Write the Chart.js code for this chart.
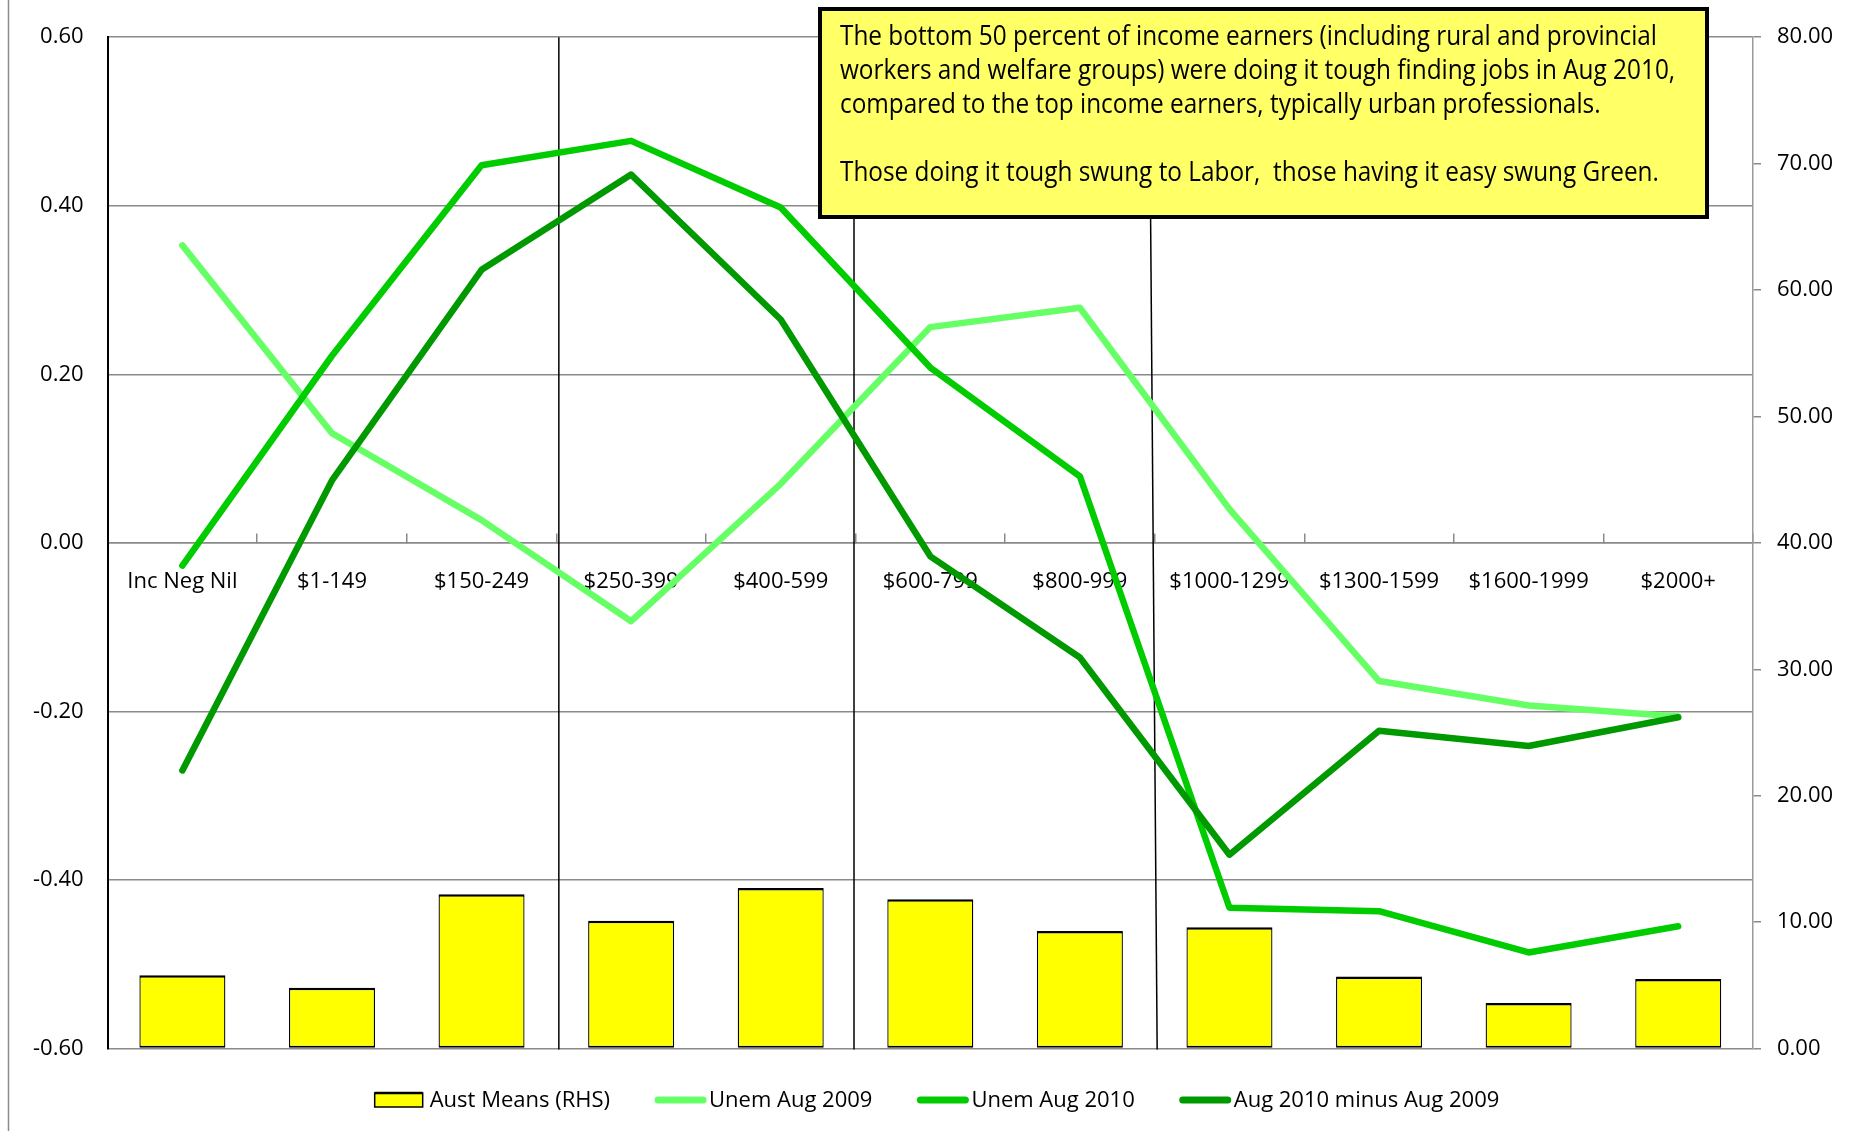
<!DOCTYPE html>
<html>
<head>
<meta charset="utf-8">
<title>Unemployment by income band, Aug 2009 vs Aug 2010</title>
<script src="https://cdn.jsdelivr.net/npm/chart.js@4.4.1/dist/chart.umd.min.js"></script>
<style>
  html, body { margin: 0; padding: 0; background: #ffffff; }
  #wrap { width: 1854px; height: 1131px; position: relative; }
</style>
</head>
<body>
<div id="wrap"><canvas id="chart"></canvas></div>
<script>
// ---- data ----
const categories = ['Inc Neg Nil', '$1-149', '$150-249', '$250-399', '$400-599', '$600-799',
                    '$800-999', '$1000-1299', '$1300-1599', '$1600-1999', '$2000+'];
const austMeans = [5.8, 4.8, 12.2, 10.1, 12.7, 11.8, 9.3, 9.6, 5.7, 3.6, 5.5];          // right axis
const unemAug2009 = [0.353, 0.130, 0.027, -0.093, 0.070, 0.256, 0.279, 0.040, -0.164, -0.193, -0.206];
const unemAug2010 = [-0.027, 0.222, 0.448, 0.477, 0.398, 0.208, 0.079, -0.433, -0.437, -0.486, -0.455];
const aug2010MinusAug2009 = [-0.270, 0.074, 0.324, 0.437, 0.265, -0.016, -0.136, -0.370, -0.223, -0.241, -0.207];

const seriesNames = ['Aust Means (RHS)', 'Unem Aug 2009', 'Unem Aug 2010', 'Aug 2010 minus Aug 2009'];
const noteLines = [
  'The bottom 50 percent of income earners (including rural and provincial',
  'workers and welfare groups) were doing it tough finding jobs in Aug 2010,',
  'compared to the top income earners, typically urban professionals.',
  '',
  'Those doing it tough swung to Labor,  those having it easy swung Green.'
];

// ---- styling ----
const FONT = '"Open Sans", "Liberation Sans", Arial, sans-serif';
const GRID = '#8a8a8a';
const C2009 = '#66ff66', C2010 = '#00cc00', CDIFF = '#009900', CBAR = '#ffff00';

// Divider lines between income groups (index of the band they follow)
const dividers = [
  { after: 2, dxTop: 2.5, dxBottom: 2.5 },
  { after: 4, dxTop: -1.5, dxBottom: -1.5 },
  { after: 6, dxTop: -5.5, dxBottom: 2.5 }
];

const decor = {
  id: 'decor',
  beforeDraw(chart) {
    const { ctx, width, height } = chart;
    ctx.save();
    ctx.fillStyle = '#ffffff';
    ctx.fillRect(0, 0, width, height);
    ctx.strokeStyle = '#8c8c8c';
    ctx.lineWidth = 1.5;
    ctx.beginPath();
    ctx.moveTo(8.5, 0);
    ctx.lineTo(8.5, height);
    ctx.stroke();
    ctx.restore();
  },
  beforeDatasetsDraw(chart) {
    const { ctx, chartArea } = chart;
    const xs = chart.scales.x;
    ctx.save();
    ctx.strokeStyle = '#000000';
    ctx.lineWidth = 1.5;
    dividers.forEach(d => {
      const b = (xs.getPixelForValue(d.after) + xs.getPixelForValue(d.after + 1)) / 2;
      ctx.beginPath();
      ctx.moveTo(b + d.dxTop, chartArea.top);
      ctx.lineTo(b + d.dxBottom, chartArea.bottom + 1);
      ctx.stroke();
    });
    ctx.restore();
  },
  afterDraw(chart) {
    const { ctx } = chart;
    ctx.save();

    // note box
    const bx = 820, by = 9, bw = 887, bh = 208;
    ctx.fillStyle = '#ffff66';
    ctx.fillRect(bx, by, bw, bh);
    ctx.strokeStyle = '#000000';
    ctx.lineWidth = 4;
    ctx.strokeRect(bx, by, bw, bh);

    ctx.fillStyle = '#000000';
    ctx.font = '500 27px ' + FONT;
    ctx.textBaseline = 'middle';
    ctx.textAlign = 'left';
    const sx = 817 / ctx.measureText(noteLines[0]).width;
    noteLines.forEach((line, i) => {
      if (!line) return;
      ctx.save();
      ctx.translate(840, 37 + i * 34);
      ctx.scale(sx, 1);
      ctx.fillText(line, 0, 0);
      ctx.restore();
    });

    // legend
    ctx.font = '500 22px ' + FONT;
    const sw = 52, gap = 3, itemGap = 44, ly = 1100;
    const items = chart.data.datasets.map(ds => ({ ds, w: sw + gap + ctx.measureText(ds.label).width }));
    const total = items.reduce((a, it) => a + it.w, 0) + itemGap * (items.length - 1);
    let x = 937 - total / 2;
    items.forEach(({ ds, w }) => {
      if (ds.type === 'bar') {
        ctx.fillStyle = ds.backgroundColor;
        ctx.fillRect(x, ly - 7, sw - 4, 14);
        ctx.strokeStyle = '#000000';
        ctx.lineWidth = 1.5;
        ctx.strokeRect(x, ly - 7, sw - 4, 14);
        ctx.lineWidth = 2.5;
        ctx.beginPath(); ctx.moveTo(x, ly - 7); ctx.lineTo(x + sw - 4, ly - 7); ctx.stroke();
      } else {
        ctx.strokeStyle = ds.borderColor;
        ctx.lineWidth = 7;
        ctx.lineCap = 'round';
        ctx.beginPath(); ctx.moveTo(x + 4, ly); ctx.lineTo(x + sw - 3, ly); ctx.stroke();
      }
      ctx.fillStyle = '#000000';
      ctx.fillText(ds.label, x + sw + gap, ly + 1);
      x += w + itemGap;
    });
    ctx.restore();
  }
};

const tickFont = { family: FONT, size: 22, weight: 500 };

new Chart(document.getElementById('chart'), {
  data: {
    labels: categories,
    datasets: [
      {
        type: 'bar', label: seriesNames[0], data: austMeans, yAxisID: 'y1', order: 4,
        backgroundColor: CBAR, borderColor: '#000000',
        borderWidth: { top: 2.5, left: 1.3, right: 1.3, bottom: 2 }, borderSkipped: false,
        categoryPercentage: 1.0, barPercentage: 0.575
      },
      {
        type: 'line', label: seriesNames[1], data: unemAug2009, yAxisID: 'y', order: 3,
        borderColor: C2009, backgroundColor: C2009, borderWidth: 6.5, pointRadius: 0,
        tension: 0, fill: false, borderCapStyle: 'round', borderJoinStyle: 'round'
      },
      {
        type: 'line', label: seriesNames[2], data: unemAug2010, yAxisID: 'y', order: 2,
        borderColor: C2010, backgroundColor: C2010, borderWidth: 6.5, pointRadius: 0,
        tension: 0, fill: false, borderCapStyle: 'round', borderJoinStyle: 'round'
      },
      {
        type: 'line', label: seriesNames[3], data: aug2010MinusAug2009, yAxisID: 'y', order: 1,
        borderColor: CDIFF, backgroundColor: CDIFF, borderWidth: 6.5, pointRadius: 0,
        tension: 0, fill: false, borderCapStyle: 'round', borderJoinStyle: 'round'
      }
    ]
  },
  options: {
    responsive: true,
    maintainAspectRatio: false,
    animation: false,
    layout: { padding: { top: 35, bottom: 82.5, left: 0, right: 0 } },
    plugins: { legend: { display: false }, tooltip: { enabled: false } },
    scales: {
      x: {
        type: 'category',
        position: { y: 0 },
        offset: true,
        grid: { display: true, drawOnChartArea: false, drawTicks: true, tickLength: -10,
                color: GRID, lineWidth: 1.5, offset: true },
        border: { display: true, color: GRID, width: 1.5 },
        ticks: { color: '#000000', font: tickFont, padding: 36,
                 autoSkip: false, maxRotation: 0, minRotation: 0 }
      },
      y: {
        position: 'left',
        min: -0.6, max: 0.6,
        grid: { color: GRID, lineWidth: 1.5, drawTicks: false },
        border: { display: true, color: '#000000', width: 2 },
        ticks: { stepSize: 0.2, color: '#000000', font: tickFont, padding: 24,
                 callback: v => Number(v).toFixed(2) },
        afterFit(scale) { scale.width = 107.6; }
      },
      y1: {
        position: 'right',
        min: 0, max: 80,
        grid: { drawOnChartArea: false, drawTicks: true, tickLength: 8, color: GRID, lineWidth: 1.5 },
        border: { display: true, color: '#9a9a9a', width: 1.5 },
        ticks: { stepSize: 10, color: '#000000', font: tickFont, padding: 16,
                 callback: v => Number(v).toFixed(2) },
        afterFit(scale) { scale.width = 101; }
      }
    }
  },
  plugins: [decor]
});
</script>
</body>
</html>
